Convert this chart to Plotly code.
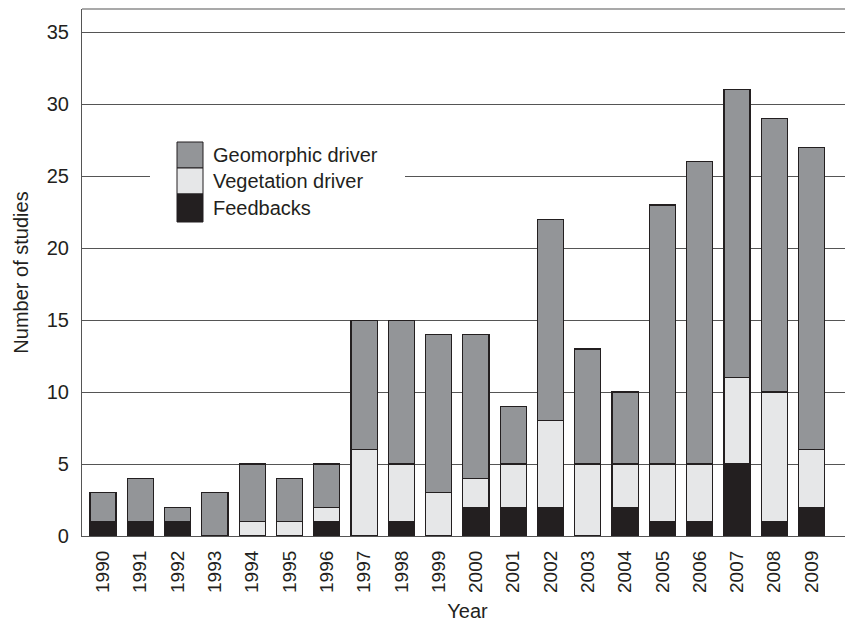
import plotly.graph_objects as go

years = [str(y) for y in range(1990, 2010)]
feedbacks = [1, 1, 1, 0, 0, 0, 1, 0, 1, 0, 2, 2, 2, 0, 2, 1, 1, 5, 1, 2]
vegetation = [0, 0, 0, 0, 1, 1, 1, 6, 4, 3, 2, 3, 6, 5, 3, 4, 4, 6, 9, 4]
geomorphic = [2, 3, 1, 3, 4, 3, 3, 9, 10, 11, 10, 4, 14, 8, 5, 18, 21, 20, 19, 21]

series_names = ["Feedbacks", "Vegetation driver", "Geomorphic driver"]
series_colors = ["#231f20", "#e6e7e8", "#939598"]
series_values = [feedbacks, vegetation, geomorphic]

# page body has an 8px margin, so the figure is drawn 8px smaller and offset
W, H = 845, 623
L, R, T, B = 74, 0, 1, 95
FONT = "Liberation Sans, Arial, Helvetica, sans-serif"
INK = "#231f20"
FS = 20

fig = go.Figure()
for name, col, vals in zip(series_names, series_colors, series_values):
    fig.add_trace(go.Bar(
        x=years, y=[v if v else None for v in vals], name=name, width=0.70,
        marker=dict(color=col, line=dict(color=INK, width=1.2)),
        showlegend=False,
    ))

pw = W - L - R
ph = H - T - B


def px(x):  # x in screen pixels
    return (x - 8 - L) / pw


def py(y):  # y in screen pixels
    return (H - B - (y - 8)) / ph


shapes = [
    dict(type="line", xref="paper", yref="paper", x0=0, x1=1, y0=1, y1=1,
         line=dict(color="#555555", width=1.2)),
    dict(type="rect", xref="paper", yref="paper", x0=px(150), x1=px(405),
         y0=py(228), y1=py(136), fillcolor="white", line=dict(width=0), layer="above"),
]
annotations = []
legend_order = [("Geomorphic driver", "#939598"), ("Vegetation driver", "#e6e7e8"), ("Feedbacks", "#231f20")]
tops = [142, 168, 194]
for (name, col), top in zip(legend_order, tops):
    bot = top + 26 if top != 194 else 222
    shapes.append(dict(type="rect", xref="paper", yref="paper", x0=px(177), x1=px(203),
                       y0=py(bot), y1=py(top), fillcolor=col,
                       line=dict(color=INK, width=1), layer="above"))
    annotations.append(dict(xref="paper", yref="paper", x=px(211), y=py((top + bot) / 2),
                            text=name, showarrow=False, xanchor="left", yanchor="middle",
                            font=dict(family=FONT, size=FS, color=INK)))

fig.update_layout(
    barmode="stack",
    bargap=0.3,
    width=W, height=H,
    margin=dict(l=L, r=R, t=T, b=B, pad=0),
    plot_bgcolor="white", paper_bgcolor="white",
    font=dict(family=FONT, size=FS, color=INK),
    shapes=shapes,
    annotations=annotations,
    xaxis=dict(
        type="category", range=[-0.563, 20.11], automargin=False,
        tickangle=-90, showline=True, linecolor="#555555", linewidth=1.2,
        ticks="", showgrid=False, tickfont=dict(size=19, color=INK),
        ticklabelstandoff=6,
        title=dict(text="Year", font=dict(size=FS, color=INK), standoff=12),
    ),
    yaxis=dict(
        range=[0, 36.62], tickvals=[0, 5, 10, 15, 20, 25, 30, 35], automargin=False,
        showline=True, linecolor="#555555", linewidth=1.2,
        showgrid=True, gridcolor="#555555", gridwidth=1.2,
        zeroline=False, ticks="", ticklabelstandoff=8,
        tickfont=dict(size=FS, color=INK),
        title=dict(text="Number of studies", font=dict(size=FS, color=INK), standoff=12),
    ),
)

fig.write_html("out.html")
